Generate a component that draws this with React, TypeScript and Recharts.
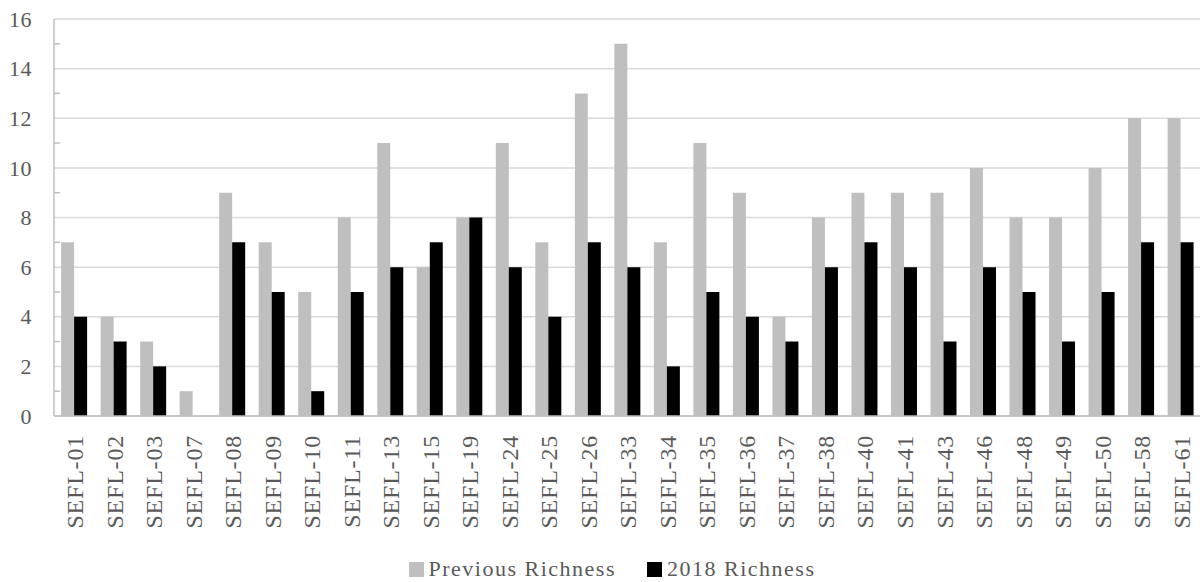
import { BarChart, Bar, XAxis, YAxis, CartesianGrid, Legend } from "recharts";

const sites = [
  "SEFL-01", "SEFL-02", "SEFL-03", "SEFL-07", "SEFL-08", "SEFL-09", "SEFL-10",
  "SEFL-11", "SEFL-13", "SEFL-15", "SEFL-19", "SEFL-24", "SEFL-25", "SEFL-26",
  "SEFL-33", "SEFL-34", "SEFL-35", "SEFL-36", "SEFL-37", "SEFL-38", "SEFL-40",
  "SEFL-41", "SEFL-43", "SEFL-46", "SEFL-48", "SEFL-49", "SEFL-50", "SEFL-58",
  "SEFL-61",
];

const previousRichness = [
  7, 4, 3, 1, 9, 7, 5, 8, 11, 6, 8, 11, 7, 13, 15, 7, 11, 9, 4, 8, 9, 9, 9, 10,
  8, 8, 10, 12, 12,
];

const richness2018 = [
  4, 3, 2, 0, 7, 5, 1, 5, 6, 7, 8, 6, 4, 7, 6, 2, 5, 4, 3, 6, 7, 6, 3, 6, 5, 3,
  5, 7, 7,
];

const yTicks = [0, 1, 2, 3, 4, 5, 6, 7, 8, 9, 10, 11, 12, 13, 14, 15, 16];
const gridValues = [0, 2, 4, 6, 8, 10, 12, 14, 16];

const seriesNames = ["Previous Richness", "2018 Richness"];
const seriesColors = ["#bfbfbf", "#000000"];

const FONT = '"Liberation Serif", "Times New Roman", serif';
const TEXT_COLOR = "#595959";

const data = sites.map((site, i) => ({
  site,
  previous: previousRichness[i],
  current: richness2018[i],
}));

// y axis: labels on even values, short inner tick marks on odd ones
function YTick(props: any) {
  const { x, y, payload } = props;
  const v = payload.value as number;
  if (v % 2 === 1) {
    return <line x1={x} x2={x + 6} y1={y} y2={y} stroke="#bfbfbf" strokeWidth={1.5} />;
  }
  return (
    <text
      x={x - 22}
      y={y}
      dy="0.35em"
      textAnchor="end"
      fill={TEXT_COLOR}
      fontFamily={FONT}
      fontSize={22}
      letterSpacing={0.5}
    >
      {v}
    </text>
  );
}

function XTick(props: any) {
  const { x, y, payload } = props;
  return (
    <text
      x={x + 1}
      y={y + 17}
      dy="0.35em"
      textAnchor="end"
      transform={`rotate(-90, ${x + 1}, ${y + 17})`}
      fill={TEXT_COLOR}
      fontFamily={FONT}
      fontSize={24}
      letterSpacing={0.8}
    >
      {payload.value}
    </text>
  );
}

function LegendBox() {
  return (
    <div
      style={{
        height: 30,
        boxSizing: "border-box",
        paddingTop: 4,
        paddingLeft: 24,
        display: "flex",
        justifyContent: "center",
        alignItems: "center",
        fontFamily: FONT,
        fontSize: 22,
        letterSpacing: 1.5,
        color: TEXT_COLOR,
      }}
    >
      {seriesNames.map((name, i) => (
        <span
          key={name}
          style={{ display: "flex", alignItems: "center", marginRight: i === 0 ? 31 : 0 }}
        >
          <span
            style={{
              width: 15,
              height: 15,
              background: seriesColors[i],
              marginRight: 5,
              display: "inline-block",
            }}
          />
          {name}
        </span>
      ))}
    </div>
  );
}

export default function App() {
  return (
    <div style={{ position: "absolute", left: 0, top: 0, background: "#fff" }}>
      <BarChart
        width={1203}
        height={582}
        data={data}
        margin={{ top: 19, right: 3, left: 0, bottom: 0 }}
        barCategoryGap="18%"
        barGap={0}
      >
        <CartesianGrid
          vertical={false}
          stroke="#d9d9d9"
          strokeWidth={1.5}
          horizontalValues={gridValues}
        />
        <XAxis
          dataKey="site"
          interval={0}
          height={136}
          tickLine={false}
          tickSize={0}
          axisLine={{ stroke: "#bfbfbf", strokeWidth: 1.5 }}
          tick={<XTick />}
        />
        <YAxis
          width={54}
          domain={[0, 16]}
          ticks={yTicks}
          interval={0}
          tickLine={false}
          tickSize={0}
          tickMargin={0}
          axisLine={{ stroke: "#bfbfbf", strokeWidth: 1.5 }}
          tick={<YTick />}
        />
        <Legend verticalAlign="bottom" content={() => <LegendBox />} />
        <Bar
          dataKey="previous"
          name={seriesNames[0]}
          fill={seriesColors[0]}
          isAnimationActive={false}
        />
        <Bar
          dataKey="current"
          name={seriesNames[1]}
          fill={seriesColors[1]}
          isAnimationActive={false}
        />
      </BarChart>
    </div>
  );
}
